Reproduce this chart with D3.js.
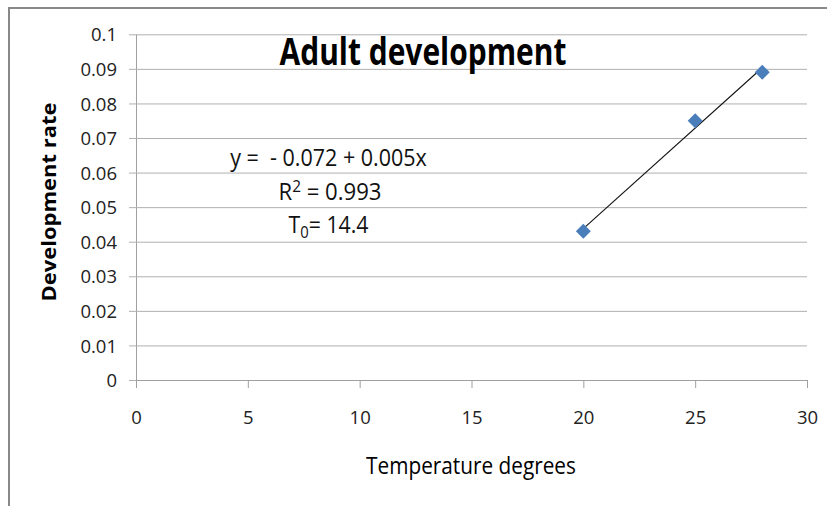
<!DOCTYPE html>
<html>
<head>
<meta charset="utf-8">
<script src="https://cdn.jsdelivr.net/npm/d3@7"></script>
<style>
  body { margin: 0; background: #fff; }
  svg { display: block; font-family: "Open Sans", sans-serif; }
</style>
</head>
<body>
<div id="chart"></div>
<script>
// data
const temps = [20, 25, 28];
const rates = [0.043, 0.075, 0.089];
const xTicks = [0, 5, 10, 15, 20, 25, 30];
const yTicks = [0, 0.01, 0.02, 0.03, 0.04, 0.05, 0.06, 0.07, 0.08, 0.09, 0.1];
const yTickLabels = ["0", "0.01", "0.02", "0.03", "0.04", "0.05", "0.06", "0.07", "0.08", "0.09", "0.1"];
const title = "Adult development";
const xTitle = "Temperature degrees";
const yTitle = "Development rate";
const eqLine = "y =  - 0.072 + 0.005x";
const r2Value = "0.993";
const t0Value = "14.4";

const W = 827, H = 506;
const plotLeft = 136, plotRight = 807, plotTop = 34.3, plotBottom = 380;

const svg = d3.select("#chart").append("svg")
  .attr("width", W)
  .attr("height", H);

// outer frame (only left and top edge visible)
svg.append("path")
  .attr("d", `M9,${H}V8H${W}`)
  .attr("fill", "none")
  .attr("stroke", "#888")
  .attr("stroke-width", 2);

const x = d3.scaleLinear().domain([0, 30]).range([plotLeft, plotRight]);
const y = d3.scaleLinear().domain([0, 0.1]).range([plotBottom, plotTop]);

// y axis + gridlines
const yAxis = svg.append("g")
  .attr("transform", `translate(${plotLeft},0)`)
  .call(d3.axisLeft(y)
    .tickValues(yTicks)
    .tickFormat((d, i) => yTickLabels[i])
    .tickSize(-(plotRight - plotLeft))
    .tickSizeOuter(0)
    .tickPadding(19));
yAxis.select(".domain").attr("stroke", "#a0a0a0")
  .attr("d", `M0.5,${plotTop}V${plotBottom + 8}`);
yAxis.selectAll(".tick line")
  .attr("x1", -7)
  .attr("stroke", "#b0b0b0");
yAxis.selectAll(".tick text")
  .attr("dy", "0.36em")
  .attr("fill", "#222")
  .style("font-size", "18.5px")
  .style("font-family", "Open Sans");

// x axis
const xAxis = svg.append("g")
  .attr("transform", `translate(0,${plotBottom})`)
  .call(d3.axisBottom(x)
    .tickValues(xTicks)
    .tickSize(8)
    .tickSizeOuter(0));
xAxis.select(".domain").attr("stroke", "#a0a0a0");
xAxis.selectAll(".tick line").attr("stroke", "#a0a0a0");
xAxis.selectAll(".tick text")
  .attr("y", 44)
  .attr("dy", 0)
  .attr("fill", "#222")
  .style("font-size", "18.5px")
  .style("font-family", "Open Sans");

// linear trend line (least squares on the points)
const mx = d3.mean(temps), my = d3.mean(rates);
const slope = d3.sum(temps, (t, i) => (t - mx) * (rates[i] - my)) /
  d3.sum(temps, t => (t - mx) * (t - mx));
const icpt = my - slope * mx;
const xr = d3.extent(temps);
svg.append("line")
  .attr("x1", x(xr[0])).attr("y1", y(icpt + slope * xr[0]))
  .attr("x2", x(xr[1])).attr("y2", y(icpt + slope * xr[1]))
  .attr("stroke", "#111")
  .attr("stroke-width", 1.1);

// markers
svg.selectAll(".pt")
  .data(temps)
  .join("path")
  .attr("class", "pt")
  .attr("d", d3.symbol(d3.symbolSquare, 112))
  .attr("transform", (d, i) => `translate(${x(d)},${y(rates[i])}) rotate(45)`)
  .attr("fill", "#4a7ebb");

// text helper: squeeze text to a given width
function fitText(t, cx, cy, w, rot) {
  const bw = t.node().getBBox().width;
  t.attr("text-anchor", "middle")
    .attr("transform", `translate(${cx},${cy}) rotate(${rot || 0}) scale(${w / bw},1)`);
  return t;
}

const tt = svg.append("text")
  .style("font-size", "37px")
  .style("font-weight", "bold")
  .attr("fill", "#000")
  .text(title);
fitText(tt, 423, 65, 287);

const yt = svg.append("text")
  .style("font-size", "19px")
  .style("font-weight", "bold")
  .attr("fill", "#000")
  .text(yTitle);
fitText(yt, 56, 202, 199, -90);

const xt = svg.append("text")
  .style("font-size", "24px")
  .attr("fill", "#000")
  .text(xTitle);
fitText(xt, 471, 474, 210);

// equation block
const eq = svg.append("text")
  .style("font-size", "24px")
  .style("white-space", "pre")
  .attr("fill", "#111")
  .text(eqLine);
fitText(eq, 328.5, 166, 197);

const r2 = svg.append("text")
  .style("font-size", "23px")
  .style("white-space", "pre")
  .attr("fill", "#111");
r2.append("tspan").text("R");
r2.append("tspan").attr("dy", -8).style("font-size", "16px").text("2");
r2.append("tspan").attr("dy", 8).text(" = " + r2Value);
fitText(r2, 330, 199.5, 103);

const t0 = svg.append("text")
  .style("font-size", "23px")
  .style("white-space", "pre")
  .attr("fill", "#111");
t0.append("tspan").text("T");
t0.append("tspan").attr("dy", 5).style("font-size", "16px").text("0");
t0.append("tspan").attr("dy", -5).text("= " + t0Value);
fitText(t0, 328.5, 232.5, 80);
</script>
</body>
</html>
